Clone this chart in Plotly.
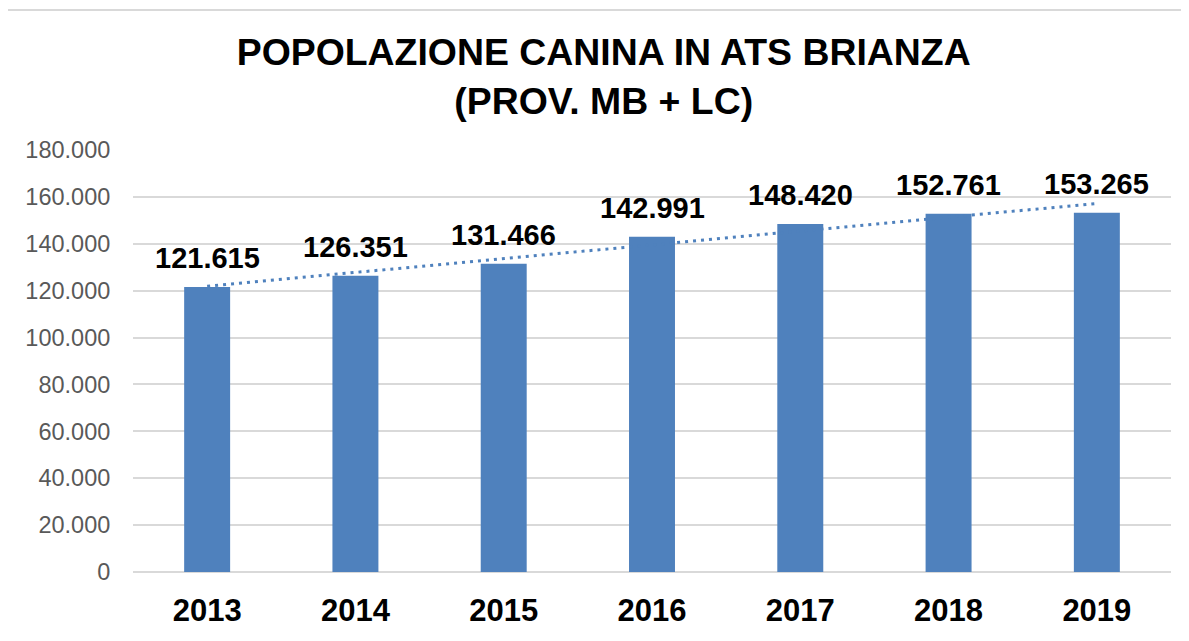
import numpy as np
import plotly.graph_objects as go

# --- dati ---
anni = ["2013", "2014", "2015", "2016", "2017", "2018", "2019"]
cani = [121615, 126351, 131466, 142991, 148420, 152761, 153265]
y_ticks = [0, 20000, 40000, 60000, 80000, 100000, 120000, 140000, 160000, 180000]

BLU = "#4F81BD"
GRIGIO = "#D9D9D9"

# linea di tendenza lineare (come in Excel)
idx = np.arange(1, len(cani) + 1)
pend, interc = np.polyfit(idx, cani, 1)
trend = pend * idx + interc

fig = go.Figure()

fig.add_trace(go.Bar(
    x=anni, y=cani,
    marker=dict(color=BLU, line=dict(width=0)),
    width=0.31,
    hoverinfo="x+y",
))

fig.add_trace(go.Scatter(
    x=anni, y=trend,
    mode="lines",
    line=dict(color=BLU, width=3, dash="3px,5px"),
    hoverinfo="skip",
))

# etichette dati sopra le barre (x = indice di categoria)
for i, v in enumerate(cani):
    fig.add_annotation(
        x=i, y=v, yanchor="bottom", yshift=11,
        text=f"{v:,}".replace(",", "."),
        showarrow=False,
        font=dict(family="Liberation Sans, Arial", size=29, color="black", weight="bold"),
    )

# cornice grigia del grafico (tagliata a destra e in basso)
fig.add_shape(
    type="rect", xref="paper", yref="paper",
    x0=-0.1214, x1=1.2, y0=-0.3, y1=1.3318,
    line=dict(color=GRIGIO, width=2), layer="below",
)

# il body della pagina ha 8px di margine: margini compensati
fig.update_layout(
    width=1189, height=641,
    margin=dict(l=125, r=26, t=142, b=77, autoexpand=False),
    paper_bgcolor="white", plot_bgcolor="white",
    showlegend=False,
    separators=",.",
    title=dict(
        text="<b>POPOLAZIONE CANINA IN ATS BRIANZA<br>(PROV. MB + LC)</b>",
        x=0.501, xanchor="center", xref="container",
        y=0.911, yanchor="top", yref="container",
        font=dict(family="Liberation Sans, Arial", size=37.4, color="black"),
    ),
)

fig.update_xaxes(
    type="category",
    range=[-0.5, len(anni) - 0.5],
    automargin=False,
    showgrid=False, showline=False,
    ticks="outside", ticklen=11, tickcolor="rgba(0,0,0,0)",
    tickfont=dict(family="Liberation Sans, Arial", size=31, color="black", weight="bold"),
    fixedrange=True,
)

fig.update_yaxes(
    range=[0, 180000],
    tickvals=y_ticks,
    tickformat=",d",
    automargin=False,
    showgrid=True, gridcolor=GRIGIO, gridwidth=2,
    zeroline=True, zerolinecolor=GRIGIO, zerolinewidth=2,
    ticks="outside", ticklen=17, tickcolor="rgba(0,0,0,0)",
    tickfont=dict(family="Liberation Sans, Arial", size=23.5, color="#595959"),
    fixedrange=True,
)

fig.write_html("out.html")
